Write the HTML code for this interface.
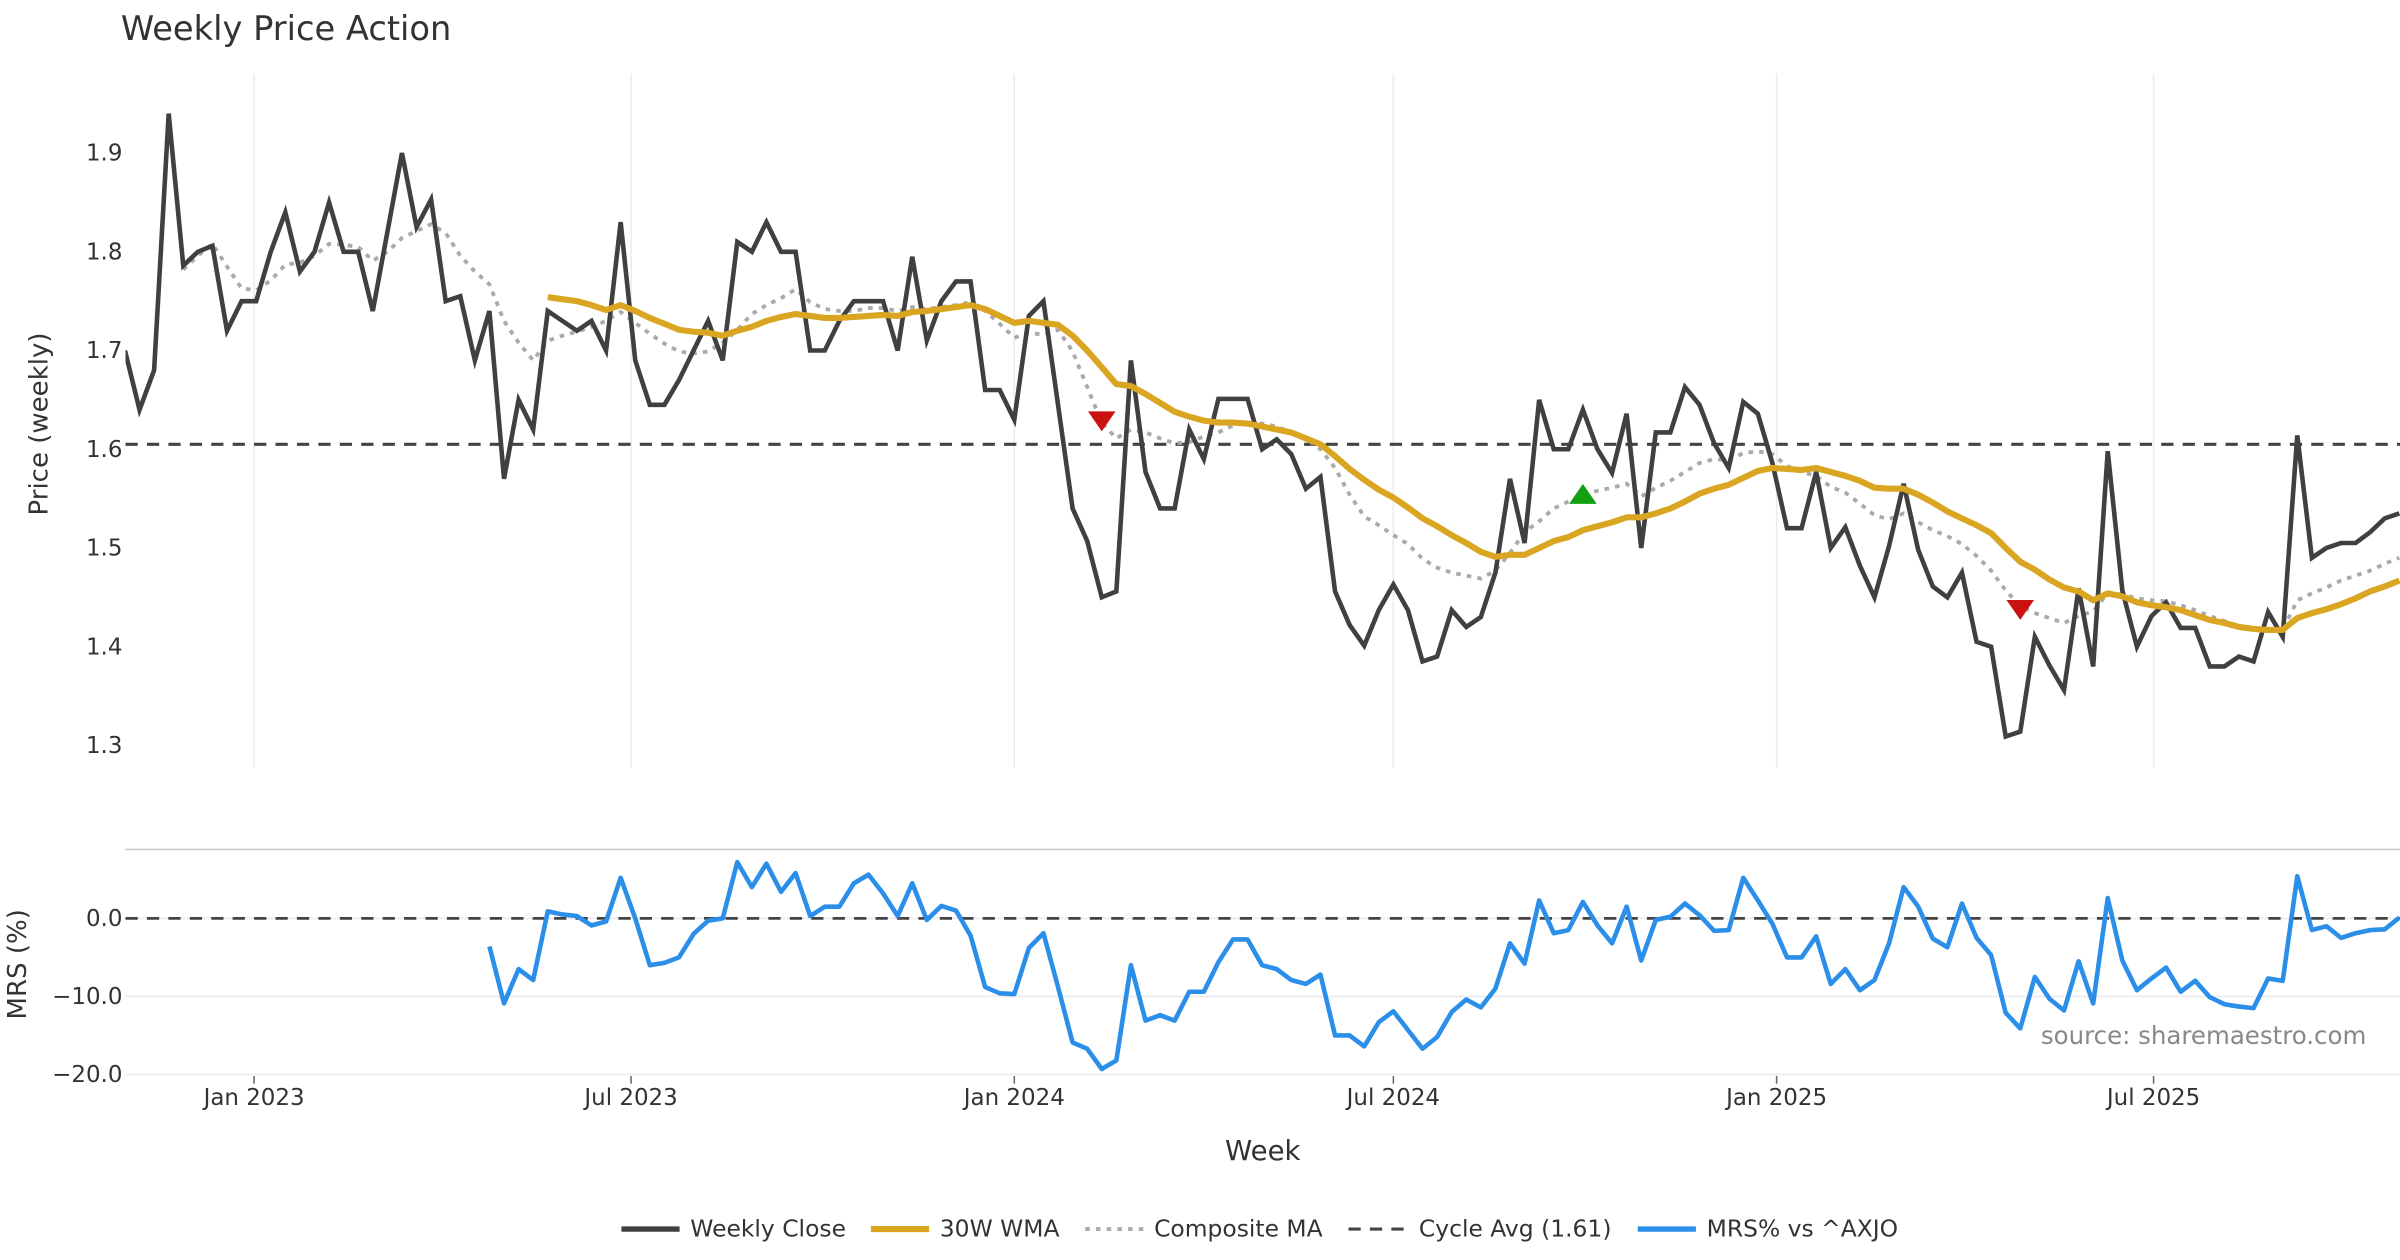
<!DOCTYPE html>
<html><head><meta charset="utf-8">
<style>
html,body{margin:0;padding:0;background:#fff;}
svg{display:block;font-family:"DejaVu Sans","Liberation Sans",sans-serif;}
</style></head>
<body>
<svg id="chart" width="2400" height="1260" viewBox="0 0 1568 823.2" xmlns="http://www.w3.org/2000/svg">
<rect x="0" y="0" width="1568" height="823.2" fill="#fff"/>
<text x="79" y="26" font-size="22" fill="#333">Weekly Price Action</text>
<g id="grid"></g>
<g id="series"></g>
<g id="axes"></g>
<text transform="translate(31,277) rotate(-90)" text-anchor="middle" font-size="17" fill="#333">Price (weekly)</text>
<text transform="translate(17,630) rotate(-90)" text-anchor="middle" font-size="17" fill="#333">MRS (%)</text>
<text x="825" y="758" text-anchor="middle" font-size="18" fill="#333">Week</text>
<text x="1546" y="682" text-anchor="end" font-size="16" fill="#888">source: sharemaestro.com</text>
<g id="legend" font-size="15.3" fill="#333">
  <g><line x1="406" y1="803" x2="444" y2="803" stroke="#404040" stroke-width="3.5"/><text x="451" y="808">Weekly Close</text></g>
  <g><line x1="569" y1="803" x2="607" y2="803" stroke="#DAA520" stroke-width="4"/><text x="614" y="808">30W WMA</text></g>
  <g><line x1="709" y1="803" x2="747" y2="803" stroke="#aaa" stroke-width="2.5" stroke-dasharray="3,4"/><text x="754" y="808">Composite MA</text></g>
  <g><line x1="881" y1="803" x2="919" y2="803" stroke="#444" stroke-width="2" stroke-dasharray="8,6"/><text x="927" y="808">Cycle Avg (1.61)</text></g>
  <g><line x1="1070" y1="803" x2="1108" y2="803" stroke="#2B8FEA" stroke-width="3.5"/><text x="1115" y="808">MRS% vs ^AXJO</text></g>
</g>
</svg>
<script>
const startDate = "2022-10-31";
const closeVals = [1.70,1.64,1.68,1.94,1.786,1.80,1.806,1.72,1.75,1.75,1.80,1.84,1.78,1.80,1.85,1.80,1.80,1.74,1.82,1.90,1.825,1.853,1.75,1.755,1.69,1.74,1.57,1.65,1.62,1.74,1.73,1.72,1.73,1.70,1.83,1.69,1.645,1.645,1.67,1.70,1.73,1.69,1.81,1.80,1.83,1.80,1.80,1.70,1.70,1.73,1.75,1.75,1.75,1.70,1.795,1.71,1.75,1.77,1.77,1.66,1.66,1.63,1.735,1.75,1.645,1.54,1.507,1.45,1.456,1.69,1.577,1.54,1.54,1.62,1.59,1.651,1.651,1.651,1.60,1.61,1.595,1.56,1.572,1.456,1.422,1.401,1.437,1.463,1.437,1.385,1.39,1.437,1.42,1.43,1.475,1.57,1.505,1.65,1.60,1.60,1.64,1.60,1.576,1.636,1.50,1.617,1.617,1.663,1.645,1.606,1.581,1.648,1.636,1.586,1.52,1.52,1.577,1.50,1.521,1.482,1.45,1.502,1.565,1.498,1.461,1.45,1.475,1.405,1.40,1.309,1.314,1.41,1.381,1.356,1.459,1.38,1.598,1.457,1.40,1.431,1.445,1.419,1.419,1.38,1.38,1.39,1.385,1.435,1.41,1.614,1.49,1.50,1.505,1.505,1.516,1.53,1.535];
const wmaStart = 29;
const wmaVals = [1.754,1.752,1.75,1.746,1.741,1.746,1.74,1.733,1.727,1.721,1.719,1.718,1.715,1.72,1.724,1.73,1.734,1.737,1.735,1.733,1.733,1.734,1.735,1.736,1.735,1.739,1.74,1.742,1.744,1.746,1.742,1.735,1.728,1.73,1.728,1.726,1.715,1.70,1.683,1.666,1.664,1.656,1.647,1.638,1.633,1.629,1.627,1.627,1.626,1.623,1.62,1.617,1.611,1.605,1.593,1.58,1.569,1.559,1.551,1.541,1.53,1.522,1.513,1.505,1.496,1.491,1.493,1.493,1.50,1.507,1.511,1.518,1.522,1.526,1.531,1.531,1.535,1.54,1.547,1.555,1.56,1.564,1.571,1.578,1.581,1.58,1.579,1.581,1.577,1.573,1.568,1.561,1.56,1.56,1.554,1.546,1.537,1.53,1.523,1.515,1.50,1.486,1.478,1.468,1.46,1.456,1.447,1.454,1.451,1.445,1.442,1.44,1.437,1.432,1.427,1.424,1.42,1.418,1.417,1.417,1.429,1.434,1.438,1.443,1.449,1.456,1.461,1.467];
const compStart = 4;
const compVals = [1.782,1.796,1.808,1.785,1.763,1.761,1.771,1.787,1.789,1.796,1.808,1.807,1.805,1.791,1.80,1.814,1.821,1.828,1.819,1.796,1.78,1.767,1.73,1.708,1.69,1.71,1.715,1.719,1.724,1.73,1.739,1.728,1.717,1.707,1.699,1.697,1.699,1.708,1.721,1.737,1.746,1.753,1.762,1.749,1.742,1.74,1.74,1.743,1.743,1.74,1.744,1.742,1.744,1.746,1.749,1.74,1.727,1.713,1.718,1.716,1.721,1.699,1.663,1.627,1.611,1.62,1.617,1.611,1.606,1.607,1.613,1.617,1.624,1.627,1.626,1.623,1.617,1.611,1.60,1.581,1.554,1.532,1.523,1.513,1.504,1.489,1.48,1.475,1.472,1.469,1.477,1.495,1.516,1.527,1.54,1.547,1.554,1.558,1.561,1.565,1.552,1.561,1.568,1.577,1.586,1.59,1.589,1.596,1.598,1.595,1.583,1.577,1.573,1.562,1.556,1.545,1.533,1.529,1.535,1.526,1.518,1.512,1.504,1.492,1.477,1.457,1.441,1.434,1.429,1.424,1.431,1.436,1.454,1.453,1.449,1.447,1.446,1.442,1.437,1.431,1.426,1.421,1.417,1.416,1.417,1.447,1.454,1.46,1.467,1.472,1.477,1.484,1.49];
const mrsStart = 25;
const mrsVals = [-3.6,-10.9,-6.5,-7.9,0.9,0.5,0.3,-0.9,-0.4,5.2,0,-6.0,-5.7,-5.0,-2.0,-0.3,0,7.2,4.0,7.0,3.4,5.8,0.3,1.5,1.5,4.5,5.6,3.2,0.3,4.5,-0.2,1.6,1.0,-2.2,-8.8,-9.6,-9.7,-3.8,-1.9,-8.8,-15.9,-16.7,-19.3,-18.2,-6.0,-13.1,-12.4,-13.1,-9.4,-9.4,-5.6,-2.7,-2.7,-6.0,-6.5,-7.9,-8.4,-7.2,-15.0,-15.0,-16.4,-13.3,-11.9,-14.3,-16.7,-15.2,-12.0,-10.4,-11.4,-9.0,-3.2,-5.8,2.3,-1.9,-1.5,2.1,-0.9,-3.2,1.5,-5.4,-0.2,0.2,1.9,0.4,-1.6,-1.5,5.2,2.3,-0.7,-5.0,-5.0,-2.3,-8.4,-6.5,-9.2,-7.9,-3.2,4.0,1.5,-2.6,-3.7,1.9,-2.5,-4.7,-12.1,-14.1,-7.5,-10.3,-11.8,-5.5,-10.9,2.6,-5.4,-9.2,-7.7,-6.3,-9.4,-8.0,-10.1,-11.0,-11.3,-11.5,-7.7,-8.0,5.4,-1.5,-1.0,-2.5,-1.9,-1.5,-1.4,0.1];
const cycleAvg = 1.605;
const sellSignals = [[67,1.629],[130,1.438]];
const buySignals = [[100,1.554]];
const priceTicks = [1.3,1.4,1.5,1.6,1.7,1.8,1.9];
const mrsTicks = [0,-10,-20];
const mrsTickLabels = ["0.0","\u221210.0","\u221220.0"];
const dateTicks = ["2023-01-01","2023-07-01","2024-01-01","2024-07-01","2025-01-01","2025-07-01"];
const dateTickLabels = ["Jan 2023","Jul 2023","Jan 2024","Jul 2024","Jan 2025","Jul 2025"];

const NS="http://www.w3.org/2000/svg";
const DAY=86400000;
const d0=Date.parse(startDate);
const xRef0=Date.parse("2023-01-01"), xRef1=Date.parse("2025-07-01");
const pxPerDay=(1407-166)/((xRef1-xRef0)/DAY);
function xDate(t){return 166+((t-xRef0)/DAY)*pxPerDay;}
function xIdx(i){return xDate(d0+i*7*DAY);}
function yP(v){return 100+(1.9-v)*645;}
function yM(v){return 600-v*5.1;}
function mk(tag,attrs,parent){const e=document.createElementNS(NS,tag);for(const k in attrs)e.setAttribute(k,attrs[k]);parent.appendChild(e);return e;}
const grid=document.getElementById('grid'),series=document.getElementById('series'),axes=document.getElementById('axes');
const L=82,R=1568;

const defs=mk('defs',{},series);
const cp=mk('clipPath',{id:'clip'},defs);
mk('rect',{x:L,y:40,width:R-L,height:760},cp);

dateTicks.forEach((d,k)=>{
  const x=xDate(Date.parse(d));
  const g=mk('line',{x1:x,y1:48,x2:x,y2:502,stroke:'#ececf0','stroke-width':1},grid);
  
  
  const t=mk('line',{x1:x,y1:703,x2:x,y2:708,stroke:'#666','stroke-width':1},axes);
  
  
  const lab=mk('text',{x:x,y:722,'text-anchor':'middle','font-size':15,fill:'#333'},axes);
  lab.textContent=dateTickLabels[k];
  
  
});
const sep=mk('line',{x1:L,y1:555,x2:R,y2:555,stroke:'#ccc','stroke-width':1.2},grid);


mrsTicks.forEach((v,k)=>{
  const y=yM(v);
  const g=mk('line',{x1:L,y1:y,x2:R,y2:y,stroke:'#ececf0','stroke-width':1.2},grid);
  
  
  const lab=mk('text',{x:80,y:y+5,'text-anchor':'end','font-size':15,fill:'#333'},axes);
  lab.textContent=mrsTickLabels[k];
  
  
});
priceTicks.forEach(v=>{
  const lab=mk('text',{x:80,y:yP(v)+5,'text-anchor':'end','font-size':15,fill:'#333'},axes);
  lab.textContent=v.toFixed(1);
  
  
});

function path(vals,start,yf){return vals.map((v,j)=>(j?'L':'M')+xIdx(start+j).toFixed(2)+' '+yf(v).toFixed(2)).join(' ');}
const sg=mk('g',{'clip-path':'url(#clip)'},series);

const cyc=mk('line',{x1:L,y1:yP(cycleAvg),x2:R,y2:yP(cycleAvg),stroke:'#444','stroke-width':2,'stroke-dasharray':'8,6'},sg);


const comp=mk('path',{d:path(compVals,compStart,yP),fill:'none',stroke:'#aaa','stroke-width':2.5,'stroke-dasharray':'3,4'},sg);


const cl=mk('path',{d:path(closeVals,0,yP),fill:'none',stroke:'#404040','stroke-width':3,'stroke-linejoin':'miter'},sg);


const wma=mk('path',{d:path(wmaVals,wmaStart,yP),fill:'none',stroke:'#DAA520','stroke-width':4,'stroke-linejoin':'round'},sg);



sellSignals.forEach(s=>{
  const x=xIdx(s[0]),y=yP(s[1]);
  const t=mk('path',{d:`M${x-9} ${y-6} L${x+9} ${y-6} L${x} ${y+7} Z`,fill:'#cc1111'},sg);
  
  
});
buySignals.forEach(s=>{
  const x=xIdx(s[0]),y=yP(s[1]);
  const t=mk('path',{d:`M${x-9} ${y+6} L${x+9} ${y+6} L${x} ${y-7} Z`,fill:'#11a011'},sg);
  
  
});

const zl=mk('line',{x1:L,y1:yM(0),x2:R,y2:yM(0),stroke:'#444','stroke-width':1.8,'stroke-dasharray':'8,6'},sg);


const mrs=mk('path',{d:path(mrsVals,mrsStart,yM),fill:'none',stroke:'#2B8FEA','stroke-width':3,'stroke-linejoin':'round'},sg);


</script>
</body></html>
